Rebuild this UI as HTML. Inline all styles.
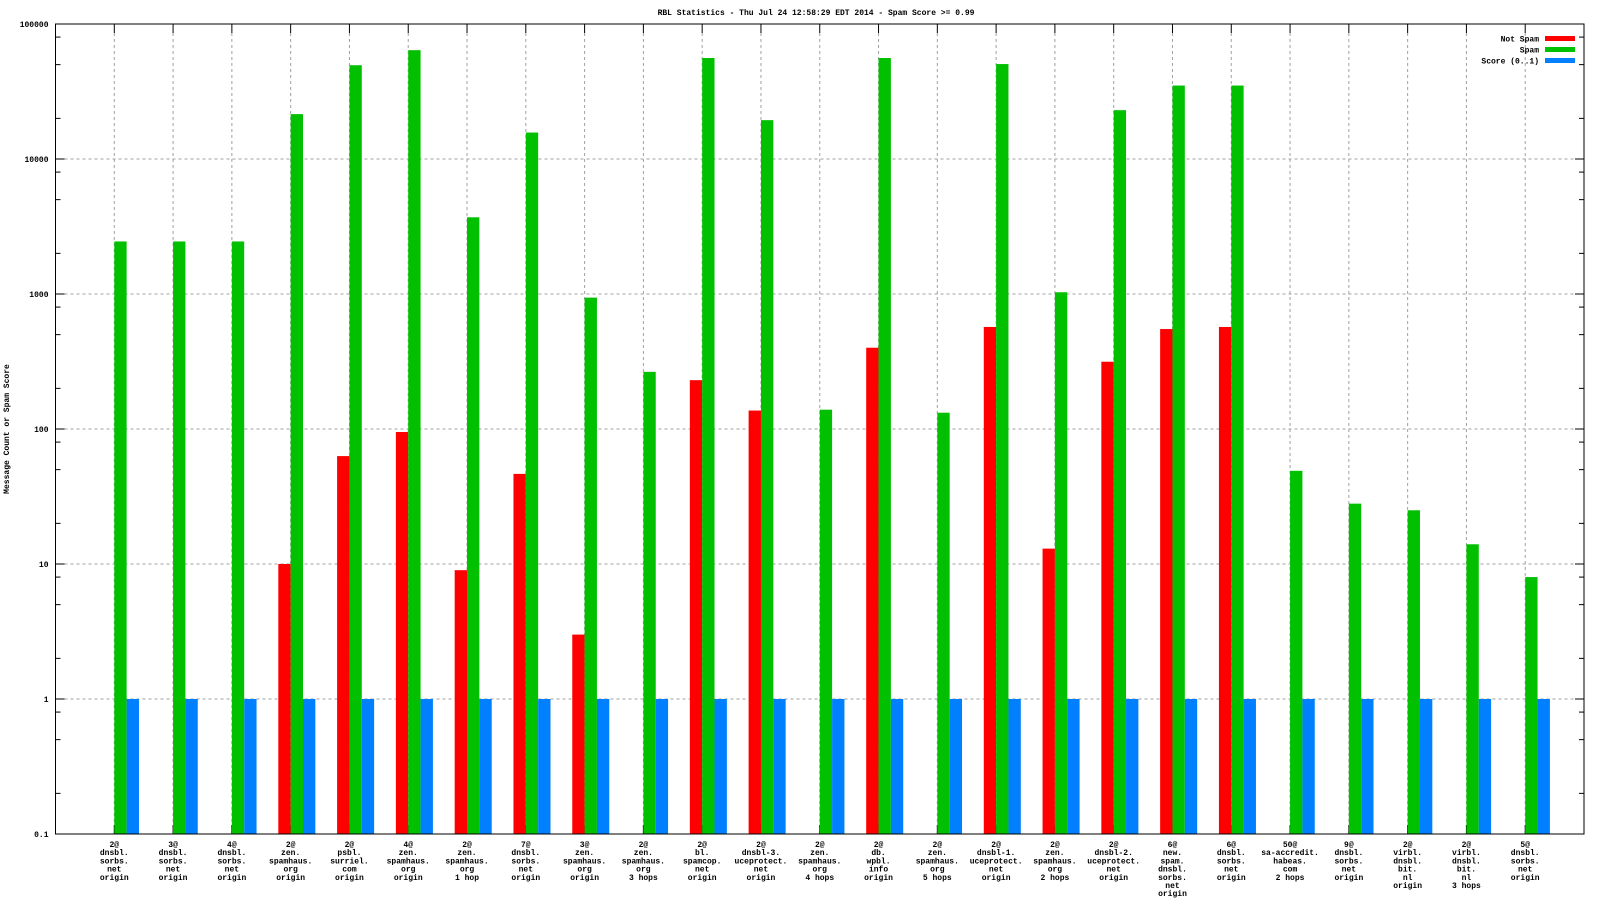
<!DOCTYPE html>
<html><head><meta charset="utf-8"><style>
body{margin:0;background:#fff}
svg text{font-family:"Liberation Mono",monospace;fill:#000}
</style></head><body>
<svg id="chart" width="1600" height="900" xmlns="http://www.w3.org/2000/svg"></svg>
<script>
const categories=[
["2@","dnsbl.","sorbs.","net","origin"],["3@","dnsbl.","sorbs.","net","origin"],["4@","dnsbl.","sorbs.","net","origin"],
["2@","zen.","spamhaus.","org","origin"],["2@","psbl.","surriel.","com","origin"],["4@","zen.","spamhaus.","org","origin"],
["2@","zen.","spamhaus.","org","1 hop"],["7@","dnsbl.","sorbs.","net","origin"],["3@","zen.","spamhaus.","org","origin"],
["2@","zen.","spamhaus.","org","3 hops"],["2@","bl.","spamcop.","net","origin"],["2@","dnsbl-3.","uceprotect.","net","origin"],
["2@","zen.","spamhaus.","org","4 hops"],["2@","db.","wpbl.","info","origin"],["2@","zen.","spamhaus.","org","5 hops"],
["2@","dnsbl-1.","uceprotect.","net","origin"],["2@","zen.","spamhaus.","org","2 hops"],["2@","dnsbl-2.","uceprotect.","net","origin"],
["6@","new.","spam.","dnsbl.","sorbs.","net","origin"],["6@","dnsbl.","sorbs.","net","origin"],["50@","sa-accredit.","habeas.","com","2 hops"],
["9@","dnsbl.","sorbs.","net","origin"],["2@","virbl.","dnsbl.","bit.","nl","origin"],["2@","virbl.","dnsbl.","bit.","nl","3 hops"],
["5@","dnsbl.","sorbs.","net","origin"]];
const notSpam=[0,0,0,10,63,95,9,46.5,3,0,230,137,0,400,0,570,13,315,550,570,0,0,0,0,0];
const spam=[2450,2450,2450,21500,49500,64000,3700,15700,940,265,56000,19400,139,56000,132,50500,1030,23000,35000,35000,49,28,25,14,8];
const score=[1,1,1,1,1,1,1,1,1,1,1,1,1,1,1,1,1,1,1,1,1,1,1,1,1];
const yTicks=[0.1,1,10,100,1000,10000,100000];
const yTickLabels=["0.1","1","10","100","1000","10000","100000"];

const L=55.5,R=1584,T=24,B=834;
const svg=document.getElementById('chart');
const NS="http://www.w3.org/2000/svg";
function xs(i){return L+(i+1)*(R-L)/26;}
function ys(v){return T+(5-Math.log10(v))*(B-T)/6;}
function mk(tag,attrs,parent){const e=document.createElementNS(NS,tag);for(const k in attrs)e.setAttribute(k,attrs[k]);(parent||svg).appendChild(e);return e;}

const grid=mk('g',{});


yTicks.forEach((v,k)=>{
  const y=ys(v);
  if(k>0&&k<yTicks.length-1){const g=mk('line',{x1:L+9,x2:R-9,y1:y,y2:y,stroke:'#a0a0a0','stroke-dasharray':'3,3'},grid);
  }
  const t=mk('text',{x:L-7,y:y+3,'text-anchor':'end','font-size':'8px','font-weight':'bold'});
  t.textContent=yTickLabels[k];
  
  mk('line',{x1:L,x2:L+9,y1:y,y2:y,stroke:'#000'});
  mk('line',{x1:R,x2:R-9,y1:y,y2:y,stroke:'#000'});
  if(k<yTicks.length-1){[2,5,8].forEach(m=>{const yy=ys(v*m);
    mk('line',{x1:L,x2:L+5,y1:yy,y2:yy,stroke:'#000'});mk('line',{x1:R,x2:R-5,y1:yy,y2:yy,stroke:'#000'});});}
});
categories.forEach((c,i)=>{
  const x=xs(i);
  const g=mk('line',{x1:x,x2:x,y1:T+9,y2:B,stroke:'#a0a0a0','stroke-dasharray':'3,3'},grid);
  
  mk('line',{x1:x,x2:x,y1:T,y2:T+9,stroke:'#000'});
  mk('line',{x1:x,x2:x,y1:B,y2:B-9,stroke:'#000'});
  const t=mk('text',{'text-anchor':'middle','font-size':'8px','font-weight':'bold'});
  
  c.forEach((s,j)=>{const ts=mk('tspan',{x:x,y:847+j*8.2},t);ts.textContent=s;});
});
const bw=(R-L)/26*0.21;
const series=[[notSpam,'#ff0000',-1,'bar-not-spam'],[spam,'#00c000',0,'bar-spam'],[score,'#0080ff',1,'bar-score']];
series.forEach(([arr,col,off,name])=>{
  arr.forEach((v,i)=>{
    if(!(v>0))return;
    const x=xs(i)+off*bw,y=ys(v);
    const r=mk('rect',{x:x,y:y,width:bw,height:B-y,fill:col});
    
  });
});
const frame=mk('rect',{x:L,y:T,width:R-L,height:B-T,fill:'none',stroke:'#000','stroke-width':1});


const title=mk('text',{x:816,y:15,'text-anchor':'middle','font-size':'8px','font-weight':'bold'});
title.textContent='RBL Statistics - Thu Jul 24 12:58:29 EDT 2014 - Spam Score >= 0.99';

const yl=mk('text',{x:0,y:0,'text-anchor':'middle','font-size':'8px','font-weight':'bold',transform:'translate(9,429) rotate(-90)'});
yl.textContent='Message Count or Spam Score';


const legendNames=['Not Spam','Spam','Score (0..1)'];
const legendCols=['#ff0000','#00c000','#0080ff'];
legendNames.forEach((n,k)=>{
  const y=38.5+k*11;
  const g=mk('g',{});
  
  const t=mk('text',{x:1539,y:y+3,'text-anchor':'end','font-size':'8px','font-weight':'bold'},g);t.textContent=n;
  mk('rect',{x:1545,y:y-2.5,width:30,height:5,fill:legendCols[k]},g);
});
</script>
</body></html>
